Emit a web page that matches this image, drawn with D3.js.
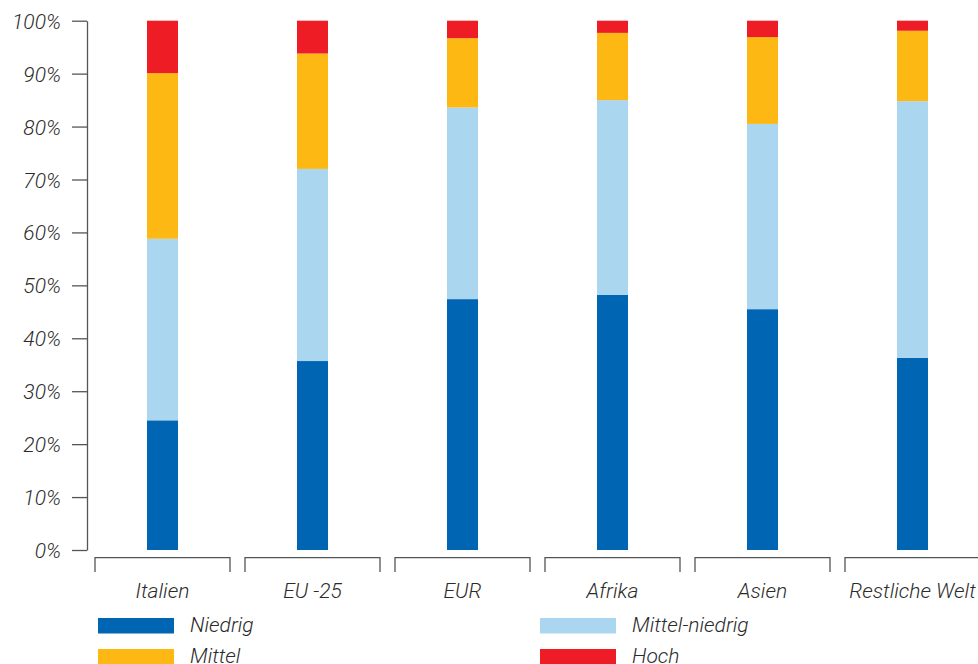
<!DOCTYPE html>
<html>
<head>
<meta charset="utf-8">
<script src="https://cdn.jsdelivr.net/npm/d3@7"></script>
<style>
  html, body { margin: 0; padding: 0; background: #fff; }
  svg text { font-family: Roboto, "Liberation Sans", sans-serif; font-weight: 300; font-style: italic; fill: #2b2b2b; }
</style>
</head>
<body>
<svg id="chart" width="978" height="664"></svg>
<script>
// Regions along the x axis
const categories = ["Italien", "EU -25", "EUR", "Afrika", "Asien", "Restliche Welt"];

// Share of each technology level per region (percent, stacked bottom to top)
const niedrig       = [24.5, 35.7, 47.4, 48.2, 45.5, 36.3];
const mittelNiedrig = [34.3, 36.3, 36.2, 36.8, 35.0, 48.5];
const mittel        = [31.3, 21.8, 13.1, 12.7, 16.4, 13.3];
const hoch          = [ 9.9,  6.2,  3.3,  2.3,  3.1,  1.9];

const seriesNames = ["Niedrig", "Mittel-niedrig", "Mittel", "Hoch"];
const seriesColors = ["#0066b3", "#abd6f0", "#fdb813", "#ee1c25"];

const yTicks = [0, 10, 20, 30, 40, 50, 60, 70, 80, 90, 100];

const svg = d3.select("#chart");

const rows = categories.map((c, i) => ({
  category: c,
  "Niedrig": niedrig[i],
  "Mittel-niedrig": mittelNiedrig[i],
  "Mittel": mittel[i],
  "Hoch": hoch[i]
}));

const stack = d3.stack().keys(seriesNames);
const layers = stack(rows);

const x = d3.scaleBand().domain(categories).range([87.5, 987.5]).paddingInner(0).paddingOuter(0);
const y = d3.scaleLinear().domain([0, 100]).range([550, 20.7]);
const color = d3.scaleOrdinal().domain(seriesNames).range(seriesColors);

const barWidth = 31;

// Stacked bars
svg.append("g")
  .selectAll("g")
  .data(layers)
  .join("g")
  .attr("fill", d => color(d.key))
  .selectAll("rect")
  .data(d => d)
  .join("rect")
  .attr("x", d => x(d.data.category) + x.bandwidth() / 2 - barWidth / 2)
  .attr("width", barWidth)
  .attr("y", d => y(d[1]))
  .attr("height", d => y(d[0]) - y(d[1]));

// Y axis
const yAxis = d3.axisLeft(y)
  .tickValues(yTicks)
  .tickFormat(d => d + "%")
  .tickSize(15)
  .tickSizeOuter(0)
  .tickPadding(11);

const gy = svg.append("g")
  .attr("transform", "translate(87,0)")
  .call(yAxis);
gy.select(".domain").attr("stroke", "#555").attr("stroke-width", 1.3);
gy.selectAll(".tick line").attr("stroke", "#555").attr("stroke-width", 1.3);
gy.selectAll(".tick text")
  .attr("font-size", 21)
  .attr("font-family", null)
  .attr("fill", null)
  .attr("dy", "0.36em");

// Category brackets and labels
const inset = 7.5;
const bracketTop = 557.7;
const bracketBottom = 572;
const gx = svg.append("g");
gx.selectAll("path")
  .data(categories)
  .join("path")
  .attr("fill", "none")
  .attr("stroke", "#555")
  .attr("stroke-width", 1.3)
  .attr("d", c => {
    const x0 = x(c) + inset, x1 = x(c) + x.bandwidth() - inset;
    return `M${x0},${bracketBottom}V${bracketTop}H${x1}V${bracketBottom}`;
  });
gx.selectAll("text")
  .data(categories)
  .join("text")
  .attr("x", c => x(c) + x.bandwidth() / 2)
  .attr("y", 598)
  .attr("text-anchor", "middle")
  .attr("font-size", 21)
  .text(c => c);

// Legend: two columns, two rows
const legendPos = [
  { name: "Niedrig", x: 98, y: 618 },
  { name: "Mittel-niedrig", x: 540, y: 618 },
  { name: "Mittel", x: 98, y: 649 },
  { name: "Hoch", x: 540, y: 649 }
];
const lg = svg.append("g")
  .selectAll("g")
  .data(legendPos)
  .join("g")
  .attr("transform", d => `translate(${d.x},${d.y})`);
lg.append("rect")
  .attr("width", 76)
  .attr("height", 15.5)
  .attr("fill", d => color(d.name));
lg.append("text")
  .attr("x", 92)
  .attr("y", 14)
  .attr("font-size", 21)
  .text(d => d.name);
</script>
</body>
</html>
